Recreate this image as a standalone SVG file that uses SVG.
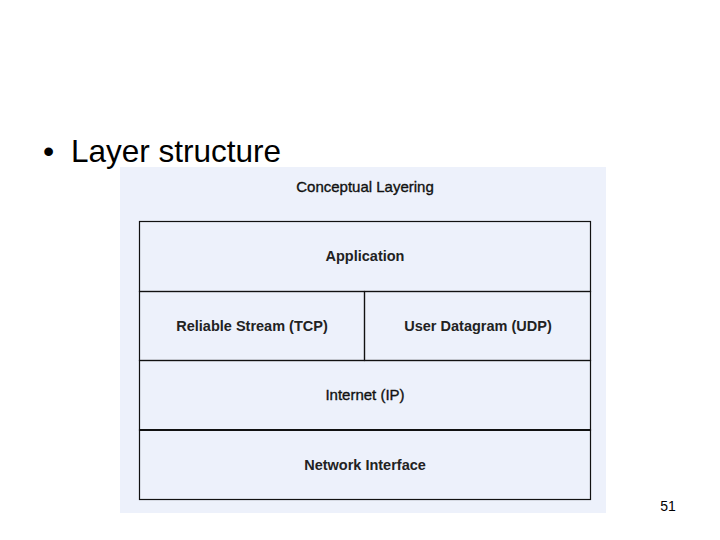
<svg xmlns="http://www.w3.org/2000/svg" width="720" height="540" viewBox="0 0 720 540">
<style>
.layer{fill:none;stroke:#111;stroke-width:1.2}
.lbl{font-family:"Liberation Sans",Arial,sans-serif;font-size:14.5px;font-weight:bold;fill:#222;text-anchor:middle}
.lblr{font-family:"Liberation Sans",Arial,sans-serif;font-size:15px;fill:#111;stroke:#111;stroke-width:0.35;text-anchor:middle}
</style>
<rect width="720" height="540" fill="#ffffff"/>
<g id="title">
<text x="43" y="162" font-family="'Liberation Sans',Arial,sans-serif" font-size="32" fill="#000">•</text>
<text x="71" y="162" font-family="'Liberation Sans',Arial,sans-serif" font-size="31.5" fill="#000">Layer structure</text>
</g>
<g id="panel">
<rect x="120" y="167" width="486" height="346" fill="#EDF1FB"/>
<text class="lblr" x="365" y="192" font-size="15.5">Conceptual Layering</text>
</g>
<g id="application">
<rect class="layer" x="139.5" y="221.5" width="451" height="70"/>
<text class="lbl" x="365" y="261">Application</text>
</g>
<g id="tcp">
<rect class="layer" x="139.5" y="291.5" width="225" height="69"/>
<text class="lbl" x="252" y="330.5">Reliable Stream (TCP)</text>
</g>
<g id="udp">
<rect class="layer" x="364.5" y="291.5" width="226" height="69"/>
<text class="lbl" x="478" y="330.5">User Datagram (UDP)</text>
</g>
<g id="internet">
<rect class="layer" x="139.5" y="360.5" width="451" height="69.5"/>
<text class="lblr" x="365" y="400">Internet (IP)</text>
</g>
<g id="network">
<rect class="layer" x="139.5" y="430" width="451" height="69.5"/>
<line x1="139.5" y1="430" x2="590.5" y2="430" stroke="#111" stroke-width="2.2"/>
<text class="lbl" x="365" y="469.5">Network Interface</text>
</g>
<g id="connectors"></g>
<g id="page-number">
<text x="668" y="511" font-family="'Liberation Sans',Arial,sans-serif" font-size="14" fill="#000" text-anchor="middle">51</text>
</g>
</svg>
